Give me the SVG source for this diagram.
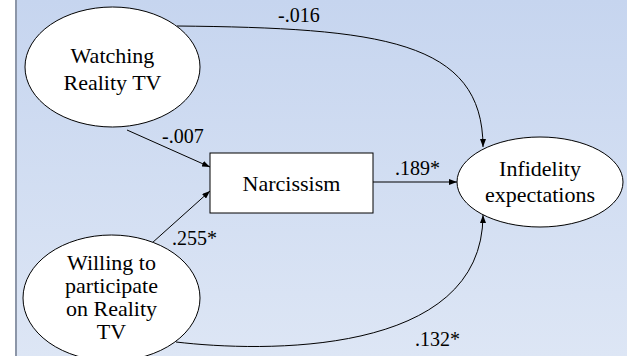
<svg xmlns="http://www.w3.org/2000/svg" width="627" height="356" viewBox="0 0 627 356">
<defs>
<linearGradient id="bg" x1="0" y1="0" x2="0" y2="1">
<stop offset="0" stop-color="#c6d5ef"/>
<stop offset="1" stop-color="#dde6f5"/>
</linearGradient>
<marker id="arr" viewBox="0 0 8 6" refX="8" refY="3" markerWidth="8" markerHeight="6" markerUnits="userSpaceOnUse" orient="auto">
<path d="M0,0 L8,3 L0,6 z" fill="#000"/>
</marker>
<style>
.shape{fill:#fff;stroke:#000;stroke-width:1}
.t{font-size:22px;fill:#000;text-anchor:middle}
.lbl{font-size:20px;fill:#000}
.c{fill:none;stroke:#000;stroke-width:1;marker-end:url(#arr)}
</style>
</defs>
<rect x="0" y="0" width="627" height="356" fill="#fff"/>
<rect x="16" y="0" width="611" height="356" fill="url(#bg)"/>
<line x1="16" y1="0" x2="16" y2="356" stroke="#8c96a8" stroke-width="2"/>
<g id="connectors" font-family="Liberation Serif, DejaVu Serif, serif">
<path class="c" d="M177,26 C380,28 483,40 483,147"/>
<path class="c" d="M127,130 L210,167"/>
<path class="c" d="M152,243 L210,191"/>
<path class="c" d="M373,182 L457,182"/>
<path class="c" d="M176,342 C260,352 483,358 483,215"/>
<text class="lbl" x="278" y="22">-.016</text>
<text class="lbl" x="162" y="143">-.007</text>
<text class="lbl" x="395" y="175">.189*</text>
<text class="lbl" x="172" y="245">.255*</text>
<text class="lbl" x="415" y="346">.132*</text>
</g>
<g id="watching" font-family="Liberation Serif, DejaVu Serif, serif">
<ellipse class="shape" cx="112.5" cy="67" rx="87.5" ry="60"/>
<text class="t" x="112.5" y="63">Watching</text>
<text class="t" x="112.5" y="90">Reality TV</text>
</g>
<g id="narcissism" font-family="Liberation Serif, DejaVu Serif, serif">
<rect class="shape" x="210" y="153" width="163" height="60"/>
<text class="t" x="291.5" y="191">Narcissism</text>
</g>
<g id="willing" font-family="Liberation Serif, DejaVu Serif, serif">
<ellipse class="shape" cx="111.5" cy="298" rx="88.5" ry="63"/>
<text class="t" x="111.5" y="270">Willing to</text>
<text class="t" x="111.5" y="293">participate</text>
<text class="t" x="111.5" y="316">on Reality</text>
<text class="t" x="111.5" y="339">TV</text>
</g>
<g id="infidelity" font-family="Liberation Serif, DejaVu Serif, serif">
<ellipse class="shape" cx="540" cy="182" rx="83" ry="45"/>
<text class="t" x="540" y="176">Infidelity</text>
<text class="t" x="540" y="202">expectations</text>
</g>
</svg>
